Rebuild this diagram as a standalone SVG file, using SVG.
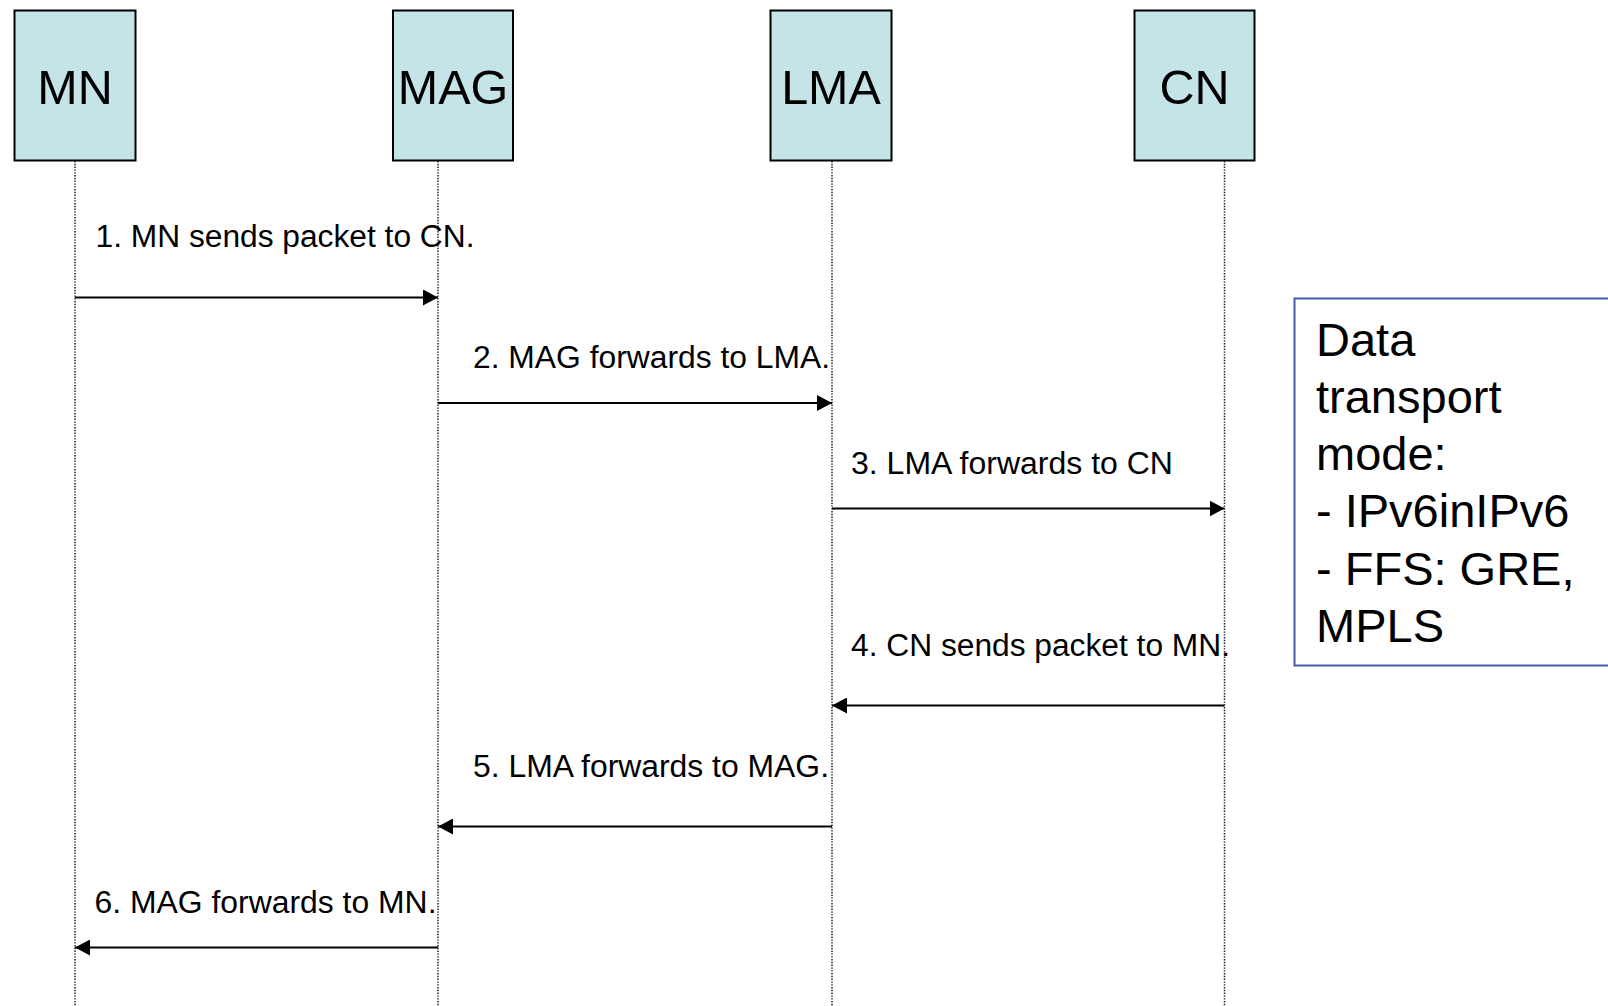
<svg xmlns="http://www.w3.org/2000/svg" width="1608" height="1006" viewBox="0 0 1608 1006">
  <style>
    .box { fill: #c5e4e8; stroke: #000; stroke-width: 2; }
    .name { font-family: "Liberation Sans", Arial, sans-serif; font-size: 48.5px; fill: #000; text-anchor: middle; }
    .life { stroke: #222; stroke-width: 1.5; stroke-dasharray: 1.4 1.4; fill: none; }
    .msg { stroke: #000; stroke-width: 2; fill: none; marker-end: url(#head); }
    .lbl { font-family: "Liberation Sans", Arial, sans-serif; font-size: 31px; fill: #000; }
    .note { fill: #fff; stroke: #4a56b0; stroke-width: 2; }
    .notetxt { font-family: "Liberation Sans", Arial, sans-serif; font-size: 47px; fill: #000; }
  </style>
  <defs>
    <marker id="head" markerWidth="15" markerHeight="16" refX="15" refY="8" orient="auto" markerUnits="userSpaceOnUse">
      <path d="M0,0 L15,8 L0,16 Z" fill="#000"/>
    </marker>
  </defs>
  <rect width="1608" height="1006" fill="#fff"/>

  <!-- participants -->
  <g id="node-mn">
    <rect class="box" x="14.5" y="10.5" width="121" height="150"/>
    <text class="name" x="75" y="104">MN</text>
  </g>
  <g id="node-mag">
    <rect class="box" x="393" y="10.5" width="120" height="150"/>
    <text class="name" x="453" y="104">MAG</text>
  </g>
  <g id="node-lma">
    <rect class="box" x="770.5" y="10.5" width="121" height="150"/>
    <text class="name" x="831" y="104">LMA</text>
  </g>
  <g id="node-cn">
    <rect class="box" x="1134.5" y="10.5" width="120" height="150"/>
    <text class="name" x="1194.5" y="104">CN</text>
  </g>

  <!-- lifelines -->
  <g id="lifelines">
    <line class="life" x1="75" y1="161" x2="75" y2="1006"/>
    <line class="life" x1="438" y1="161" x2="438" y2="1006"/>
    <line class="life" x1="832" y1="161" x2="832" y2="1006"/>
    <line class="life" x1="1224.5" y1="161" x2="1224.5" y2="1006"/>
  </g>

  <!-- messages -->
  <g id="connectors">
    <line class="msg" x1="75" y1="297.5" x2="438" y2="297.5"/>
    <line class="msg" x1="438" y1="403" x2="832" y2="403"/>
    <line class="msg" x1="832" y1="508.5" x2="1224.5" y2="508.5"/>
    <line class="msg" x1="1224.5" y1="705.5" x2="832" y2="705.5"/>
    <line class="msg" x1="832" y1="826.5" x2="438" y2="826.5"/>
    <line class="msg" x1="438" y1="947.5" x2="75" y2="947.5"/>
  </g>

  <g id="labels">
    <text class="lbl" x="95.5" y="247" textLength="379" lengthAdjust="spacingAndGlyphs">1. MN sends packet to CN.</text>
    <text class="lbl" x="473" y="368" textLength="357" lengthAdjust="spacingAndGlyphs">2. MAG forwards to LMA.</text>
    <text class="lbl" x="851" y="474" textLength="322" lengthAdjust="spacingAndGlyphs">3. LMA forwards to CN</text>
    <text class="lbl" x="851" y="656" textLength="379" lengthAdjust="spacingAndGlyphs">4. CN sends packet to MN.</text>
    <text class="lbl" x="473" y="777" textLength="356" lengthAdjust="spacingAndGlyphs">5. LMA forwards to MAG.</text>
    <text class="lbl" x="94.5" y="913" textLength="342" lengthAdjust="spacingAndGlyphs">6. MAG forwards to MN.</text>
  </g>

  <!-- transport mode note -->
  <g id="note-transport">
    <rect class="note" x="1294.5" y="298.5" width="330" height="367"/>
    <text class="notetxt" x="1316">
      <tspan x="1316" y="356">Data</tspan>
      <tspan x="1316" y="412.5">transport</tspan>
      <tspan x="1316" y="470">mode:</tspan>
      <tspan x="1316" y="526.5">- IPv6inIPv6</tspan>
      <tspan x="1316" y="584.5">- FFS: GRE,</tspan>
      <tspan x="1316" y="641.5">MPLS</tspan>
    </text>
  </g>
</svg>
